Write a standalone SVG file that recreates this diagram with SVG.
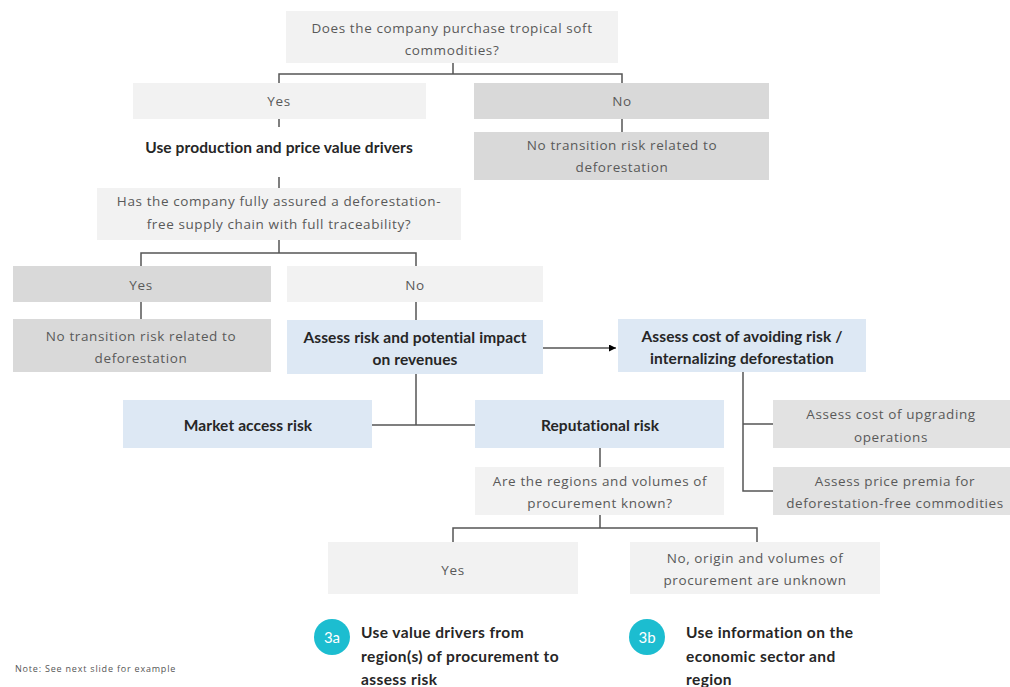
<svg xmlns="http://www.w3.org/2000/svg" width="1010" height="687" viewBox="0 0 1010 687">
<defs>
<style>
.lt{fill:#f2f2f2}
.gy{fill:#d9d9d9}
.g2{fill:#e2e2e2}
.bl{fill:#dde8f4}
.t{font-family:"Open Sans","Liberation Sans",sans-serif;font-size:13.5px;fill:#595959;text-anchor:middle;dominant-baseline:central;letter-spacing:0.6px}
.b{font-family:Lato,"Liberation Sans",sans-serif;font-size:15.5px;font-weight:bold;fill:#262626;text-anchor:middle;dominant-baseline:central;letter-spacing:0.1px}
.s{font-family:Lato,"Liberation Sans",sans-serif;font-size:15.5px;font-weight:bold;fill:#262626;dominant-baseline:central;letter-spacing:0.4px}
.c{fill:#1cbdd0}
.ct{font-family:Lato,"Liberation Sans",sans-serif;font-size:15px;fill:#ffffff;text-anchor:middle;dominant-baseline:central}
.ln{fill:none;stroke:#555555;stroke-width:1.5}
</style>
<marker id="ah" viewBox="0 0 10 10" refX="10" refY="5" markerWidth="7" markerHeight="7" orient="auto" markerUnits="userSpaceOnUse">
<path d="M0,0 L10,5 L0,10 z" fill="#000000"/>
</marker>
</defs>
<rect width="1010" height="687" fill="#ffffff"/>
<g id="connectors">
<path class="ln" d="M453,63 V74 M279,83 V74 H622 V83"/>
<path class="ln" d="M622,119 V132"/>
<path class="ln" d="M279,119 V127"/>
<path class="ln" d="M279,177 V188"/>
<path class="ln" d="M279,240 V253 M141,266 V253 H416 V266"/>
<path class="ln" d="M141,302 V319"/>
<path class="ln" d="M416,302 V320"/>
<path class="ln" d="M416,374 V425 M372,425 H475"/>
<path class="ln" d="M543,348 H616" stroke="#333" marker-end="url(#ah)"/>
<path class="ln" d="M743,372 V491 H773 M743,424 H773"/>
<path class="ln" d="M600,448 V467"/>
<path class="ln" d="M600,515 V528 M453,542 V528 H757 V542"/>
</g>
<g id="q1"><rect class="lt" x="286" y="11" width="332" height="52"/><text class="t" x="452" y="28">Does the company purchase tropical soft</text><text class="t" x="452" y="50">commodities?</text></g>
<g id="yes1"><rect class="lt" x="133" y="83" width="293" height="36"/><text class="t" x="279" y="101">Yes</text></g>
<g id="no1"><rect class="gy" x="474" y="83" width="295" height="36"/><text class="t" x="622" y="101">No</text></g>
<g id="norisk1"><rect class="gy" x="474" y="132" width="295" height="48"/><text class="t" x="622" y="145">No transition  risk related to</text><text class="t" x="622" y="167">deforestation</text></g>
<g id="useprod"><text class="b" x="279" y="147">Use production and price value drivers</text></g>
<g id="q2"><rect class="lt" x="97" y="188" width="364" height="52"/><text class="t" x="279" y="201">Has the company fully assured a deforestation-</text><text class="t" x="279" y="224">free supply chain with full traceability?</text></g>
<g id="yes2"><rect class="gy" x="13" y="266" width="258" height="36"/><text class="t" x="141" y="285">Yes</text></g>
<g id="no2"><rect class="lt" x="287" y="266" width="256" height="36"/><text class="t" x="415" y="285">No</text></g>
<g id="norisk2"><rect class="gy" x="13" y="319" width="258" height="53"/><text class="t" x="141" y="336">No transition  risk related to</text><text class="t" x="141" y="358">deforestation</text></g>
<g id="assessrisk"><rect class="bl" x="287" y="320" width="256" height="54"/><text class="b" x="415" y="337">Assess risk and potential impact</text><text class="b" x="415" y="359">on revenues</text></g>
<g id="assesscost"><rect class="bl" x="618" y="319" width="248" height="53"/><text class="b" x="742" y="336">Assess cost of avoiding risk /</text><text class="b" x="742" y="358">internalizing deforestation</text></g>
<g id="market"><rect class="bl" x="123" y="400" width="249" height="48"/><text class="b" x="248" y="425">Market access risk</text></g>
<g id="reput"><rect class="bl" x="475" y="400" width="249" height="48"/><text class="b" x="600" y="425">Reputational risk</text></g>
<g id="upgrade"><rect class="g2" x="773" y="400" width="237" height="48"/><text class="t" x="891" y="414">Assess cost of  upgrading</text><text class="t" x="891" y="437">operations</text></g>
<g id="premia"><rect class="g2" x="773" y="467" width="237" height="48"/><text class="t" x="895" y="481">Assess price premia  for</text><text class="t" x="895" y="503">deforestation-free  commodities</text></g>
<g id="q3"><rect class="lt" x="475" y="467" width="249" height="48"/><text class="t" x="600" y="481">Are the regions  and volumes of</text><text class="t" x="600" y="503">procurement  known?</text></g>
<g id="yes3"><rect class="lt" x="328" y="542" width="250" height="52"/><text class="t" x="453" y="570">Yes</text></g>
<g id="no3"><rect class="lt" x="630" y="542" width="250" height="52"/><text class="t" x="755" y="558">No,  origin and volumes of</text><text class="t" x="755" y="580">procurement  are unknown</text></g>
<g id="s3a"><circle class="c" cx="332" cy="637" r="18"/><text class="ct" x="332" y="637">3a</text><text class="s" x="361" y="632">Use value drivers from</text><text class="s" x="361" y="656">region(s) of procurement to</text><text class="s" x="361" y="679">assess risk</text></g>
<g id="s3b"><circle class="c" cx="647" cy="637" r="18"/><text class="ct" x="647" y="637">3b</text><text class="s" x="686" y="632">Use information on the</text><text class="s" x="686" y="656">economic sector and</text><text class="s" x="686" y="679">region</text></g>
<g id="note"><text x="15" y="668" style="font-family:'Open Sans','Liberation Sans',sans-serif;font-size:9px;fill:#555555;dominant-baseline:central;letter-spacing:0.8px">Note: See next slide for example</text></g>
</svg>
